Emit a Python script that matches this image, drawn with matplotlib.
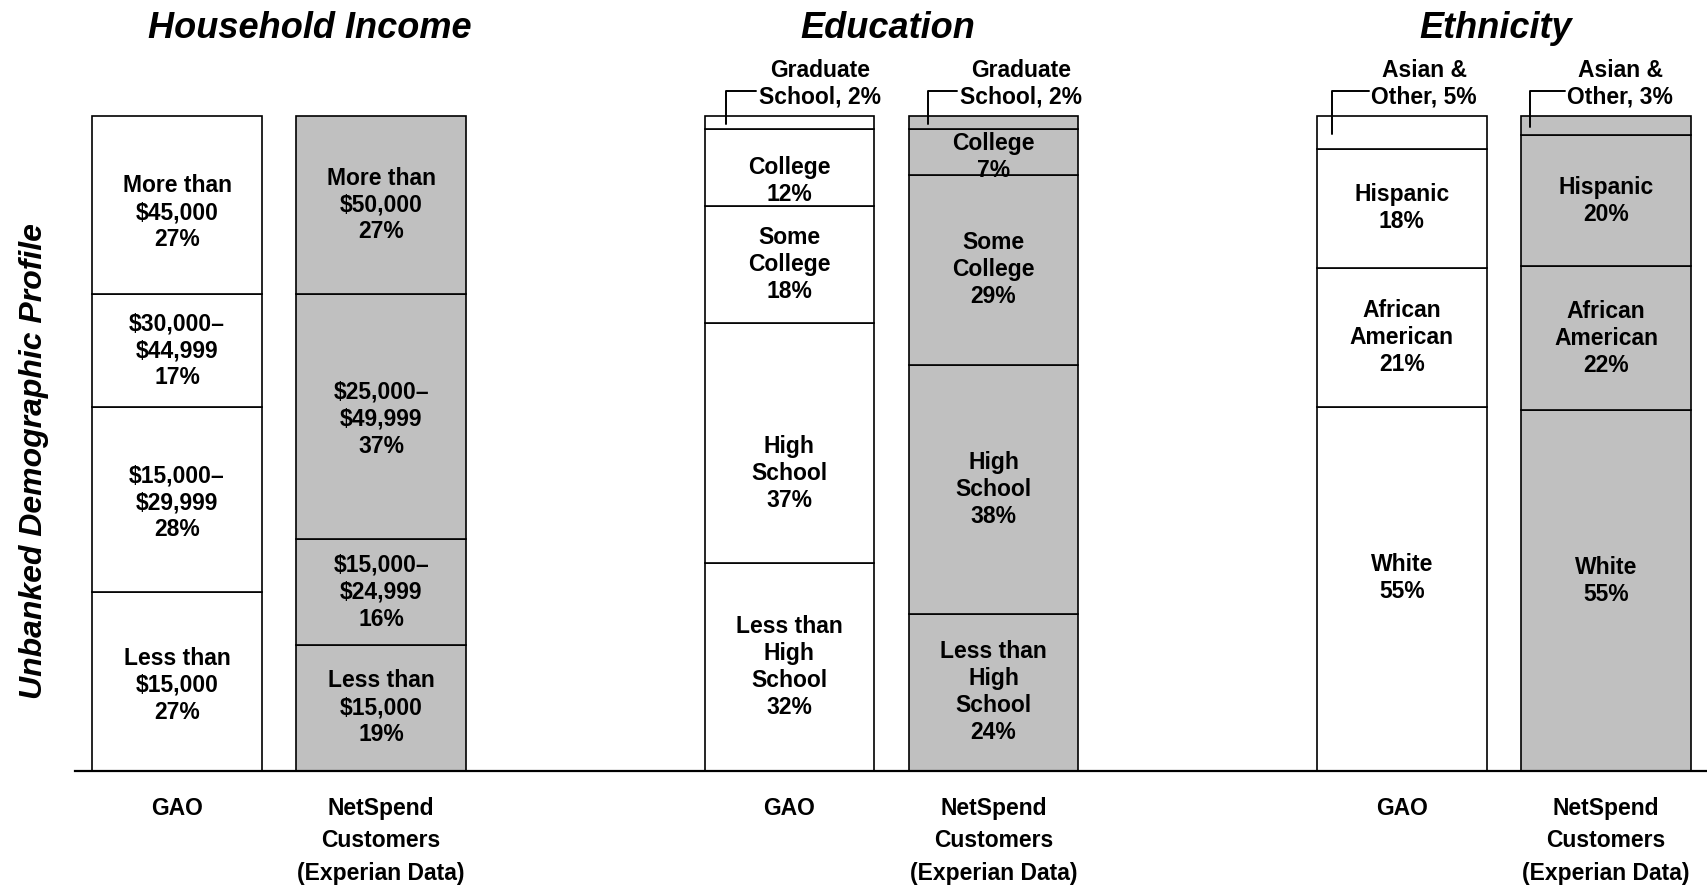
import matplotlib
matplotlib.use("Agg")
import matplotlib.pyplot as plt
import numpy as np

# group titles and the two sources in each group
groups = ["Household Income", "Education", "Ethnicity"]
sources = ["GAO", "NetSpend\nCustomers\n(Experian Data)"]

# segments are listed bottom to top
income_gao_labels = ["Less than\n$15,000", "$15,000–\n$29,999", "$30,000–\n$44,999", "More than\n$45,000"]
income_gao = [27, 28, 17, 27]
income_ns_labels = ["Less than\n$15,000", "$15,000–\n$24,999", "$25,000–\n$49,999", "More than\n$50,000"]
income_ns = [19, 16, 37, 27]

edu_labels = ["Less than\nHigh\nSchool", "High\nSchool", "Some\nCollege", "College", "Graduate\nSchool"]
edu_gao = [32, 37, 18, 12, 2]
edu_ns = [24, 38, 29, 7, 2]

eth_labels = ["White", "African\nAmerican", "Hispanic", "Asian &\nOther"]
eth_gao = [55, 21, 18, 5]
eth_ns = [55, 22, 20, 3]

bars = [(income_gao_labels, income_gao), (income_ns_labels, income_ns),
        (edu_labels, edu_gao), (edu_labels, edu_ns),
        (eth_labels, eth_gao), (eth_labels, eth_ns)]

# layout
x_pos = [0, 1, 3, 4, 6, 7]
fills = ["white", "#C0C0C0"] * 3
title_x = [0.65, 3.48, 6.46]
# small nudges of some inside labels (in % units, + is up)
nudge = {(0, 0): -0.6, (0, 1): -0.5, (0, 3): -1.2, (1, 2): -0.4,
         (2, 1): -4.6, (2, 3): -2.0, (3, 3): -0.8, (4, 0): 1.7, (5, 0): 1.5}
# callout text offset from bar centre and leader foot offset
callout_dx = {2: 0.15, 3: 0.135, 4: 0.11, 5: 0.07}
leader_dx = {2: -0.31, 3: -0.32, 4: -0.34, 5: -0.37}

plt.rcParams["font.family"] = ["Liberation Sans", "DejaVu Sans"]
plt.rcParams["font.weight"] = "bold"

W, H = 1708, 885
base_px, top_px = 770.7, 115.7
px_per_pct = (base_px - top_px) / 100

fig = plt.figure(figsize=(W / 100, H / 100), dpi=100)
ax = fig.add_axes([75 / W, (H - base_px) / H, 1 - 75 / W, base_px / H])
ax.set_xlim(-0.5, 7.5)
ax.set_ylim(0, base_px / px_per_pct)

for i, (x, (labels, vals), fc) in enumerate(zip(x_pos, bars, fills)):
    share = np.array(vals) / sum(vals) * 100
    bottoms = np.concatenate([[0], np.cumsum(share)[:-1]])
    ax.bar(x, share, width=0.83, bottom=bottoms, color=fc,
           edgecolor="black", linewidth=1.2)
    for j, (lab, v, s, b) in enumerate(zip(labels, vals, share, bottoms)):
        if v <= 5:
            first, second = lab.split("\n")
            ax.annotate(f"{first}\n{second}, {v}%",
                        xy=(x + leader_dx[i], b + s / 2 - 0.3),
                        xytext=(x + callout_dx[i], 101.1),
                        ha="center", va="bottom", fontsize=16.5,
                        linespacing=1.17, annotation_clip=False,
                        arrowprops=dict(arrowstyle="-", color="black", lw=1.4,
                                        shrinkA=0, shrinkB=0, relpos=(0, 0.36),
                                        connectionstyle="angle,angleA=180,angleB=90,rad=0"))
        else:
            ax.text(x, b + s / 2 + nudge.get((i, j), 0), f"{lab}\n{v}%",
                    ha="center", va="center", fontsize=16.5, linespacing=1.22)

ax.set_xticks(x_pos, sources * 3, fontsize=16.5, linespacing=1.52, va="top")
ax.tick_params(axis="x", length=0, pad=19)
ax.set_yticks([])
for side in ["top", "left", "right"]:
    ax.spines[side].set_visible(False)
ax.spines["bottom"].set_linewidth(1.6)

for tx, title in zip(title_x, groups):
    ax.text(tx, (base_px - 38) / px_per_pct, title, ha="center", va="baseline",
            fontsize=26, fontstyle="italic", clip_on=False)

fig.text(34 / W, 1 - 461 / H, "Unbanked Demographic Profile", rotation=90,
         ha="center", va="center", fontsize=23, fontstyle="italic")

fig.savefig("out.png", dpi=100)
